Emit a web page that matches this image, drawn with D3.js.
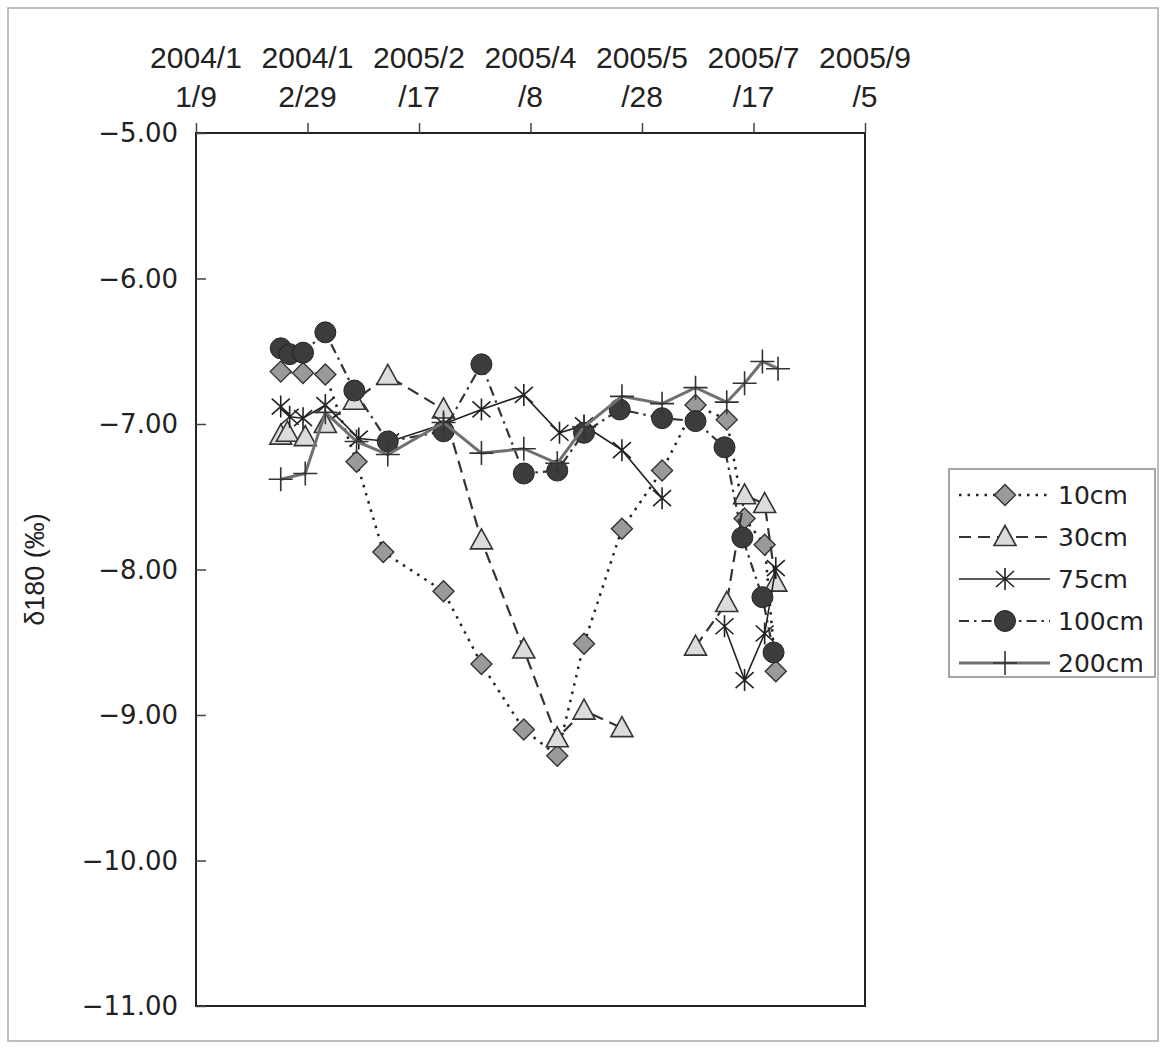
<!DOCTYPE html>
<html>
<head>
<meta charset="utf-8">
<script src="https://cdn.jsdelivr.net/npm/d3@7"></script>
<style>
  body { margin: 0; background: #fff; }
  svg { display: block; }
</style>
</head>
<body>
<svg id="chart"></svg>
<script>
// sampling dates and d18O values
var tickDates = ["2004-11-09","2004-12-29","2005-02-17","2005-04-08","2005-05-28","2005-07-17","2005-09-05"]
var tickLabels = [["2004/1","1/9"],["2004/1","2/29"],["2005/2","/17"],["2005/4","/8"],["2005/5","/28"],["2005/7","/17"],["2005/9","/5"]]
var yTicks = [-5,-6,-7,-8,-9,-10,-11]

var dates10 = ["2004-12-17","2004-12-27","2005-01-06","2005-01-20","2005-02-01","2005-02-28","2005-03-17","2005-04-05","2005-04-20","2005-05-02","2005-05-19","2005-06-06","2005-06-21","2005-07-05","2005-07-13","2005-07-22","2005-07-27"]
var vals10 = [-6.64,-6.65,-6.66,-7.26,-7.88,-8.15,-8.65,-9.10,-9.28,-8.51,-7.72,-7.32,-6.87,-6.97,-7.65,-7.83,-8.70]

var dates30 = ["2004-12-17","2004-12-20","2004-12-28","2005-01-06","2005-01-19","2005-02-03","2005-02-28","2005-03-17","2005-04-05","2005-04-20","2005-05-02","2005-05-19","2005-06-06","2005-06-21","2005-07-05","2005-07-13","2005-07-22","2005-07-27"]
var vals30 = [-7.08,-7.06,-7.09,-7.00,-6.84,-6.67,-6.90,-7.80,-8.55,-9.16,-8.97,-9.09,null,-8.53,-8.23,-7.49,-7.55,-8.09]

var dates75 = ["2004-12-17","2004-12-21","2004-12-27","2005-01-06","2005-01-21","2005-02-04","2005-02-28","2005-03-17","2005-04-05","2005-04-21","2005-05-02","2005-05-19","2005-06-06","2005-06-21","2005-07-04","2005-07-13","2005-07-22","2005-07-27"]
var vals75 = [-6.88,-6.95,-6.96,-6.87,-7.10,-7.12,-7.00,-6.90,-6.80,-7.06,-7.01,-7.18,-7.51,null,-8.39,-8.76,-8.44,-7.99]

var dates100 = ["2004-12-17","2004-12-21","2004-12-27","2005-01-06","2005-01-19","2005-02-03","2005-02-28","2005-03-17","2005-04-05","2005-04-20","2005-05-02","2005-05-18","2005-06-06","2005-06-21","2005-07-04","2005-07-12","2005-07-21","2005-07-26"]
var vals100 = [-6.48,-6.52,-6.51,-6.37,-6.77,-7.12,-7.05,-6.59,-7.34,-7.32,-7.06,-6.90,-6.96,-6.98,-7.16,-7.78,-8.19,-8.57]

var dates200 = ["2004-12-17","2004-12-28","2005-01-06","2005-01-20","2005-02-03","2005-02-28","2005-03-17","2005-04-05","2005-04-20","2005-05-02","2005-05-19","2005-06-06","2005-06-21","2005-07-05","2005-07-13","2005-07-21","2005-07-28"]
var vals200 = [-7.38,-7.34,-6.92,-7.12,-7.21,-6.99,-7.20,-7.17,-7.27,-7.02,-6.81,-6.86,-6.75,-6.85,-6.72,-6.57,-6.62]

var seriesNames = ["10cm","30cm","75cm","100cm","200cm"]

var dimensions = {
    width: 1161,
    height: 1051,
    margin: { top: 133, bottom: 45, right: 296, left: 196 }
}
var parse = d3.timeParse("%Y-%m-%d")

var svg = d3.select("#chart")
            .attr("width", dimensions.width)
            .attr("height", dimensions.height)

svg.append("rect")
   .attr("x", 8).attr("y", 8)
   .attr("width", 1150).attr("height", 1033)
   .attr("fill", "#fff").attr("stroke", "#aaa").attr("stroke-width", 1.5)

var xScale = d3.scaleTime()
               .domain([parse(tickDates[0]), parse(tickDates[tickDates.length-1])])
               .range([dimensions.margin.left, dimensions.width - dimensions.margin.right])

var yScale = d3.scaleLinear()
               .domain([-11, -5])
               .range([dimensions.height - dimensions.margin.bottom, dimensions.margin.top])

// plot frame
svg.append("rect")
   .attr("x", xScale.range()[0]).attr("y", yScale(-5))
   .attr("width", xScale.range()[1] - xScale.range()[0])
   .attr("height", yScale(-11) - yScale(-5))
   .attr("fill", "none").attr("stroke", "#222").attr("stroke-width", 2)

// top axis with two-line labels
var xAxis = svg.append("g")
   .attr("transform", `translate(0,${yScale(-5)})`)
   .call(d3.axisTop(xScale).tickValues(tickDates.map(parse)).tickSize(10).tickFormat(""))
xAxis.select(".domain").remove()
xAxis.selectAll("line").attr("stroke", "#444").attr("stroke-width", 1.5)

tickDates.forEach(function(t, i){
    var tx = svg.append("text")
       .attr("x", xScale(parse(t)))
       .attr("y", 68)
       .attr("text-anchor", "middle")
       .style("font-family", "'Liberation Sans', Arial, sans-serif")
       .style("font-size", "30px")
       .style("fill", "#222")
    tx.append("tspan").attr("x", xScale(parse(t))).attr("dy", 0).text(tickLabels[i][0])
    tx.append("tspan").attr("x", xScale(parse(t))).attr("dy", 39).text(tickLabels[i][1])
})

// left axis, ticks inside
var yAxis = svg.append("g")
   .attr("transform", `translate(${dimensions.margin.left},0)`)
   .call(d3.axisRight(yScale).tickValues(yTicks).tickSize(10).tickFormat(""))
yAxis.select(".domain").remove()
yAxis.selectAll("line").attr("stroke", "#444").attr("stroke-width", 1.5)

svg.append("g").selectAll("text")
   .data(yTicks)
   .enter()
   .append("text")
   .attr("x", 178)
   .attr("y", d => yScale(d))
   .attr("dy", "0.36em")
   .attr("text-anchor", "end")
   .style("font-family", "'DejaVu Sans', sans-serif")
   .style("font-size", "26px")
   .style("fill", "#222")
   .text(d => "\u2212" + d3.format(".2f")(-d))

svg.append("text")
   .attr("transform", `translate(44,${(yScale(-5)+yScale(-11))/2}) rotate(-90)`)
   .attr("text-anchor", "middle")
   .style("font-family", "'Liberation Sans', Arial, sans-serif")
   .style("font-size", "27px")
   .style("fill", "#222")
   .text("\u03b4180 (\u2030)")

// marker shapes
function marker(g, type){
    if (type == "diamond") {
        g.append("path").attr("d", "M0,-10.5L10.5,0L0,10.5L-10.5,0Z")
         .attr("fill", "#9a9a9a").attr("stroke", "#333").attr("stroke-width", 1.4)
    } else if (type == "triangle") {
        g.append("path").attr("d", "M0,-11.5L11,8.5L-11,8.5Z")
         .attr("fill", "#dcdcdc").attr("stroke", "#333").attr("stroke-width", 1.6)
    } else if (type == "star") {
        g.append("path").attr("d", "M0,-11V11M-9,-8L9,8M-9,8L9,-8")
         .attr("fill", "none").attr("stroke", "#222").attr("stroke-width", 1.6)
    } else if (type == "circle") {
        g.append("circle").attr("r", 10.5)
         .attr("fill", "#3c3c3c").attr("stroke", "#222").attr("stroke-width", 1)
    } else if (type == "plus") {
        g.append("path").attr("d", "M0,-12V12M-12,0H12")
         .attr("fill", "none").attr("stroke", "#333").attr("stroke-width", 1.6)
    }
}

var styles = [
    {marker: "diamond", stroke: "#222", width: 2.5, dash: "2.5,6"},
    {marker: "triangle", stroke: "#333", width: 2.2, dash: "12,7"},
    {marker: "star", stroke: "#222", width: 1.6, dash: null},
    {marker: "circle", stroke: "#333", width: 2.2, dash: "10,5,2.5,5"},
    {marker: "plus", stroke: "#707070", width: 3, dash: null}
]

var allDates = [dates10, dates30, dates75, dates100, dates200]
var allVals = [vals10, vals30, vals75, vals100, vals200]

var line = d3.line()
             .defined(d => d.v != null)
             .x(d => xScale(d.t))
             .y(d => yScale(d.v))

allDates.forEach(function(ds, i){
    var data = ds.map((t, j) => ({t: parse(t), v: allVals[i][j]}))
    var st = styles[i]
    svg.append("path")
       .datum(data)
       .attr("d", line)
       .style("fill", "none")
       .style("stroke", st.stroke)
       .style("stroke-width", st.width)
       .style("stroke-dasharray", st.dash)
    data.filter(d => d.v != null).forEach(function(d){
        var g = svg.append("g").attr("transform", `translate(${xScale(d.t)},${yScale(d.v)})`)
        marker(g, st.marker)
    })
})

// legend
svg.append("rect")
   .attr("x", 949).attr("y", 469).attr("width", 206).attr("height", 208)
   .attr("fill", "#fff").attr("stroke", "#888").attr("stroke-width", 1.5)
seriesNames.forEach(function(n, i){
    var y = 495 + i * 42
    var st = styles[i]
    svg.append("line")
       .attr("x1", 959).attr("x2", 1050).attr("y1", y).attr("y2", y)
       .style("stroke", st.stroke).style("stroke-width", st.width)
       .style("stroke-dasharray", st.dash)
    marker(svg.append("g").attr("transform", `translate(1005,${y})`), st.marker)
    svg.append("text")
       .attr("x", 1058).attr("y", y).attr("dy", "0.36em")
       .style("font-family", "'DejaVu Sans', sans-serif")
       .style("font-size", "25px")
       .style("fill", "#222")
       .text(n)
})
</script>
</body>
</html>
